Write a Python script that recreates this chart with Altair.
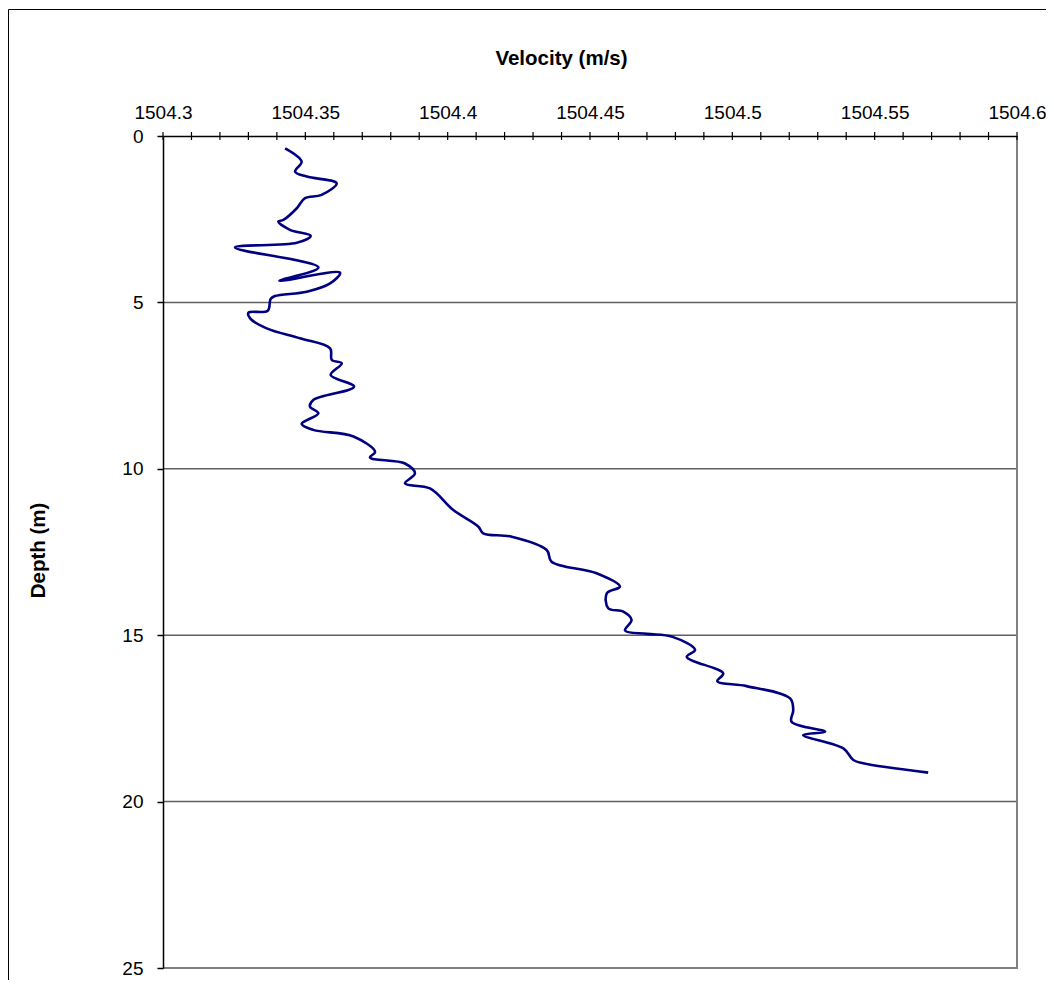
import altair as alt
import pandas as pd

# Depth (m) and sound velocity (m/s) in drawing order
depth = [0.37, 0.77, 1.07, 1.22, 1.42, 1.77, 1.87, 2.17, 2.52, 2.57, 2.82, 3.00, 3.21,
         3.35, 3.95, 4.35, 4.11, 4.43, 4.68, 4.81, 4.90, 5.25, 5.31, 5.48, 5.78, 6.08,
         6.38, 6.73, 6.83, 7.18, 7.53, 7.93, 8.13, 8.33, 8.65, 8.83, 9.03, 9.49, 9.66,
         9.84, 10.14, 10.44, 10.59, 11.24, 11.74, 11.94, 12.04, 12.44, 12.79, 13.14,
         13.54, 13.74, 14.19, 14.29, 14.54, 14.86, 14.96, 15.05, 15.44, 15.65, 16.15,
         16.38, 16.53, 16.90, 17.25, 17.60, 17.90, 18.00, 18.40, 18.75, 18.85, 19.13]
velocity = [1504.3429, 1504.3487, 1504.3464, 1504.3505, 1504.3610, 1504.3557, 1504.3499,
            1504.3470, 1504.3423, 1504.3405, 1504.3446, 1504.3519, 1504.3470, 1504.3253,
            1504.3546, 1504.3409, 1504.3622, 1504.3587, 1504.3505, 1504.3393, 1504.3378,
            1504.3368, 1504.3300, 1504.3306, 1504.3364, 1504.3481, 1504.3587, 1504.3593,
            1504.3628, 1504.3589, 1504.3671, 1504.3528, 1504.3516, 1504.3546, 1504.3487,
            1504.3528, 1504.3669, 1504.3745, 1504.3727, 1504.3850, 1504.3885, 1504.3850,
            1504.3938, 1504.4020, 1504.4108, 1504.4125, 1504.4225, 1504.4348, 1504.4365,
            1504.4523, 1504.4605, 1504.4559, 1504.4564, 1504.4617, 1504.4646, 1504.4623,
            1504.4700, 1504.4790, 1504.4869, 1504.4840, 1504.4968, 1504.4947, 1504.5050,
            1504.5203, 1504.5214, 1504.5208, 1504.5326, 1504.5249, 1504.5390, 1504.5425,
            1504.5460, 1504.5688]

x_major = [1504.30, 1504.35, 1504.40, 1504.45, 1504.50, 1504.55, 1504.60]
x_minor = [1504.30, 1504.31, 1504.32, 1504.33, 1504.34, 1504.35, 1504.36, 1504.37,
           1504.38, 1504.39, 1504.40, 1504.41, 1504.42, 1504.43, 1504.44, 1504.45,
           1504.46, 1504.47, 1504.48, 1504.49, 1504.50, 1504.51, 1504.52, 1504.53,
           1504.54, 1504.55, 1504.56, 1504.57, 1504.58, 1504.59, 1504.60]
y_ticks = [0, 5, 10, 15, 20, 25]
y_grid = [5, 10, 15, 20]

W, H = 854, 832
FONT = "Liberation Sans"
LFS = 19
TFS = 20.5

df = pd.DataFrame({"i": list(range(len(depth))), "depth": depth, "velocity": velocity})

xscale = alt.Scale(domain=[1504.3, 1504.6], nice=False, zero=False)
yscale = alt.Scale(domain=[0, 25], reverse=True, nice=False, zero=False)

line = alt.Chart(df).mark_line(color="#000080", strokeWidth=2.6, interpolate="catmull-rom").encode(
    x=alt.X("velocity:Q", scale=xscale,
            axis=alt.Axis(orient="top", values=x_major, format=".2~f", ticks=False, tickSize=0,
                          labelPadding=14, labelFont=FONT, labelFontSize=LFS, labelColor="#000",
                          domainColor="#000", domainWidth=1.5, grid=False, zindex=1,
                          title="Velocity (m/s)", titleFont=FONT, titleFontSize=TFS,
                          titleFontWeight="bold", titleColor="#000", titleX=398, titleY=-78,
                          titleBaseline="middle", titleAnchor="start", titleAlign="center",
                          labelFlush=False)),
    y=alt.Y("depth:Q", scale=yscale,
            axis=alt.Axis(values=y_ticks, tickSize=6, tickColor="#000", tickWidth=1.5,
                          labelPadding=14, labelFont=FONT, labelFontSize=LFS, labelColor="#000",
                          domainColor="#000", domainWidth=1.5, grid=False, zindex=1,
                          title="Depth (m)", titleFont=FONT, titleFontSize=TFS,
                          titleFontWeight="bold", titleColor="#000", titleX=-125, titleY=414,
                          titleAngle=270, titleBaseline="middle", titleAlign="center",
                          labelFlush=False)),
    order="i:Q",
)

grid = alt.Chart(pd.DataFrame({"g": y_grid})).mark_rule(color="#606060", strokeWidth=1.5).encode(
    y=alt.Y("g:Q", scale=yscale), x=alt.value(0), x2=alt.value(W))

ticks = alt.Chart(pd.DataFrame({"t": x_minor})).mark_rule(color="#000", strokeWidth=1.2).encode(
    x=alt.X("t:Q", scale=xscale), y=alt.value(-4), y2=alt.value(4))

frame_r = alt.Chart(pd.DataFrame({"a": [0]})).mark_rule(color="#808080", strokeWidth=2).encode(
    x=alt.value(W), y=alt.value(0), y2=alt.value(H + 1))
frame_b = alt.Chart(pd.DataFrame({"a": [0]})).mark_rule(color="#808080", strokeWidth=2).encode(
    y=alt.value(H), x=alt.value(0), x2=alt.value(W + 1))

outer = alt.Chart(pd.DataFrame({"a": [0]})).mark_rect(filled=False, stroke="#000", strokeWidth=1).encode(
    x=alt.value(-154.5), x2=alt.value(W + 80), y=alt.value(-126.5), y2=alt.value(H + 60))

chart = alt.layer(outer, grid, frame_r, frame_b, line, ticks).properties(
    width=W, height=H,
    autosize=alt.AutoSizeParams(type="none"),
    padding={"left": 155, "top": 128, "right": 29, "bottom": 12},
).configure_view(stroke=None).configure(background="white")

chart.save("out.html", embed_options={"renderer": "svg", "actions": False})
